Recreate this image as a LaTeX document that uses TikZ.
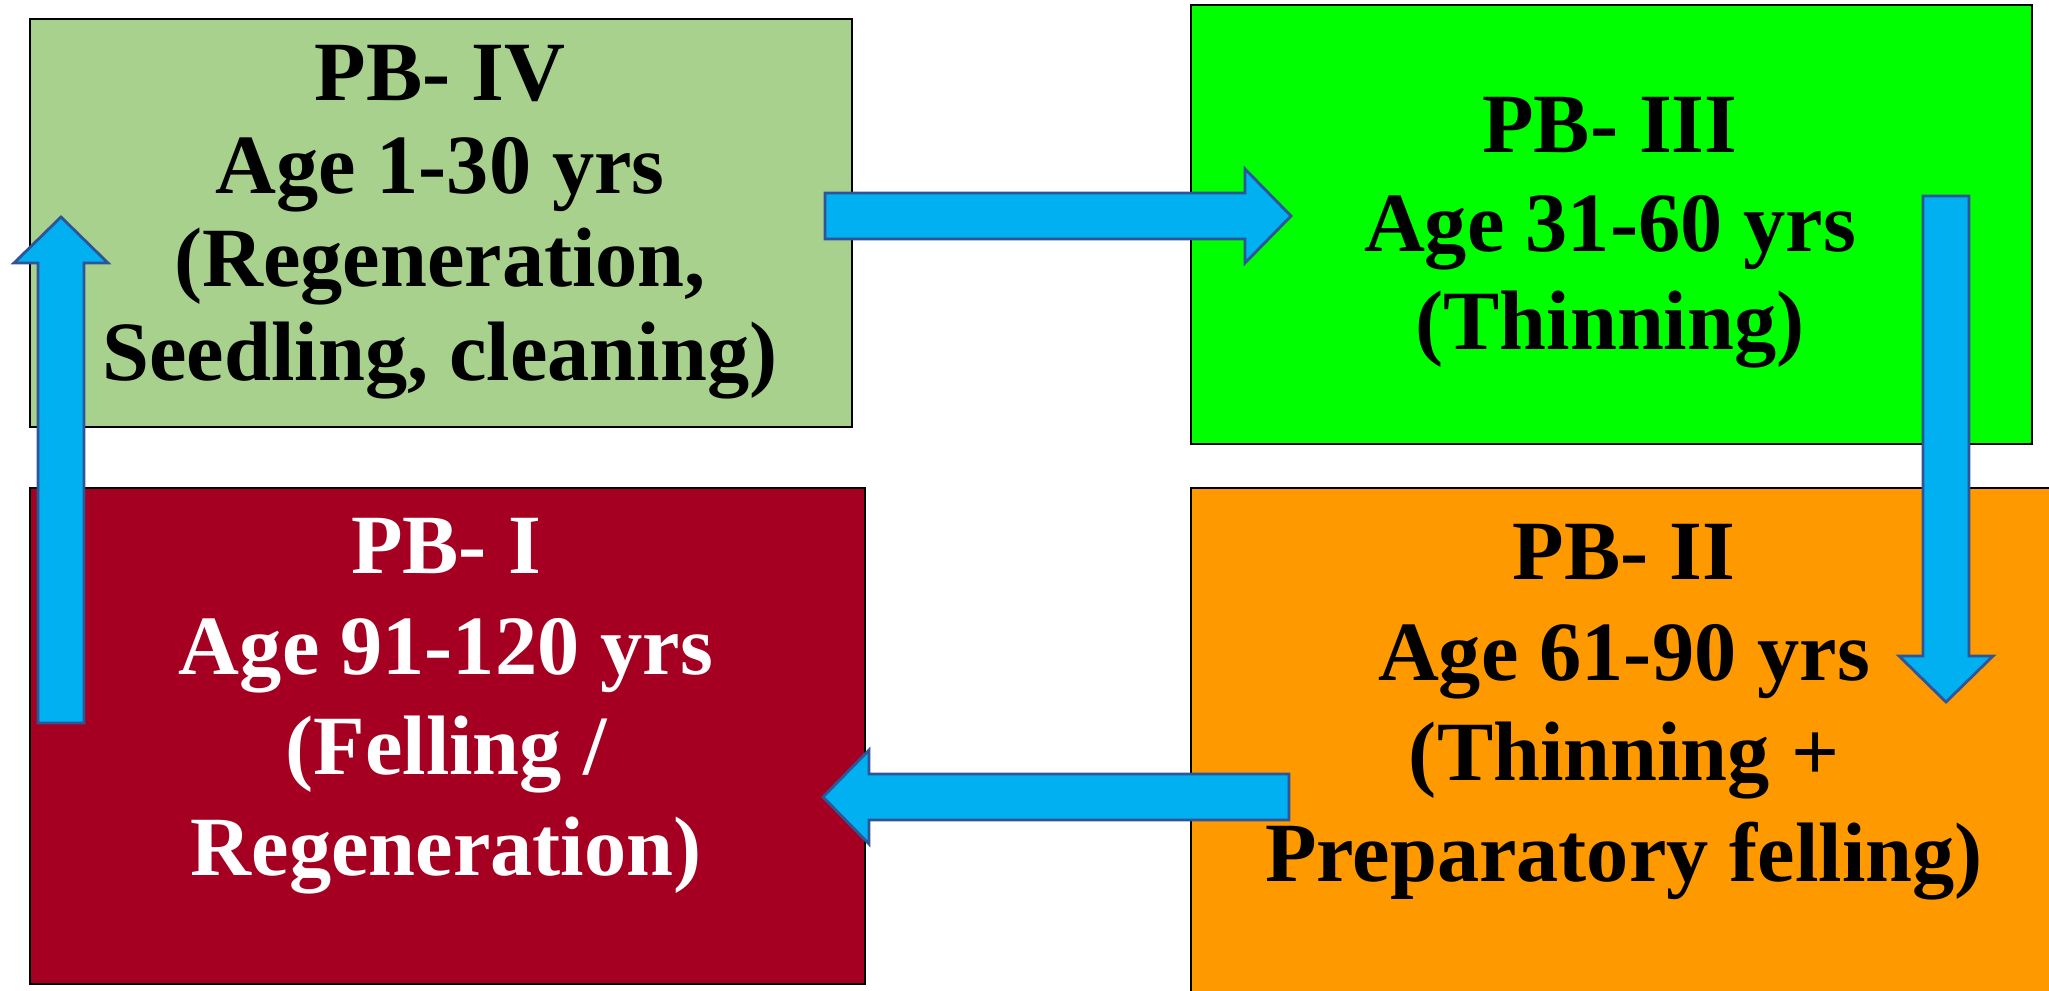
\documentclass[tikz,border=0pt]{standalone}
\usepackage{fontspec}
\setmainfont{Liberation Serif}
\usetikzlibrary{calc}

\definecolor{pbsage}{RGB}{169,209,142}
\definecolor{pblime}{RGB}{0,255,0}
\definecolor{pbmaroon}{RGB}{165,0,33}
\definecolor{pborange}{RGB}{255,153,0}
\definecolor{flowfill}{RGB}{0,176,240}
\definecolor{flowedge}{RGB}{47,85,151}

% block arrow from #1 (tail) to #2 (tip)
\newcommand{\flowarrow}[2]{%
  \coordinate (#1h) at ($(#2)!0.46cm!(#1)$);
  \draw[flow] ($(#1)!0.23cm!90:(#2)$) -- ($(#1h)!0.23cm!-90:(#1)$)
    -- ($(#1h)!0.47cm!-90:(#1)$) -- (#2) -- ($(#1h)!0.47cm!90:(#1)$)
    -- ($(#1h)!0.23cm!90:(#1)$) -- ($(#1)!0.23cm!-90:(#2)$) -- cycle;}

\begin{document}
\begin{tikzpicture}[
    pbbox/.style={draw=black,line width=0.5pt,rectangle,anchor=north west,inner sep=0pt},
    pbtext/.style={align=center,font=\fontsize{24}{#1}\selectfont\bfseries},
    pbtext/.default=26.5pt,
    flow/.style={fill=flowfill,draw=flowedge,line width=0.8pt,line join=miter}]
  \useasboundingbox (0,0) rectangle (20.49,-9.91);

  % period blocks
  \node[pbbox,fill=pbsage,minimum width=8.22cm,minimum height=4.08cm] (pb4) at (0.29,-0.18) {};
  \node[pbbox,fill=pblime,minimum width=8.41cm,minimum height=4.39cm] (pb3) at (11.90,-0.04) {};
  \node[pbbox,fill=pbmaroon,minimum width=8.35cm,minimum height=4.96cm] (pb1) at (0.29,-4.87) {};
  \node[pbbox,fill=pborange,minimum width=8.80cm,minimum height=5.30cm] (pb2) at (11.90,-4.87) {};

  \node[pbtext] (pb4txt) at (4.40,-2.22) {PB- IV\\Age 1-30 yrs\\(Regeneration,\\Seedling, cleaning)};
  \node[pbtext=28pt] (pb3txt) at (16.10,-2.33) {PB- III\\Age 31-60 yrs\\(Thinning)};
  \node[pbtext=28.6pt,white] (pb1txt) at (4.46,-7.06) {PB- I\\Age 91-120 yrs\\(Felling /\\Regeneration)};
  \node[pbtext=28.6pt] (pb2txt) at (16.24,-7.12) {PB- II\\Age 61-90 yrs\\(Thinning +\\Preparatory felling)};

  % flow between blocks
  \coordinate (a4) at (8.25,-2.16);
  \coordinate (a3) at (12.91,-2.16);
  \coordinate (b3) at (19.46,-1.96);
  \coordinate (b2) at (19.46,-7.02);
  \coordinate (c2) at (12.89,-7.97);
  \coordinate (c1) at (8.23,-7.97);
  \coordinate (d1) at (0.61,-7.23);
  \coordinate (d4) at (0.61,-2.17);
  \flowarrow{a4}{a3}
  \flowarrow{b3}{b2}
  \flowarrow{c2}{c1}
  \flowarrow{d1}{d4}
\end{tikzpicture}
\end{document}
